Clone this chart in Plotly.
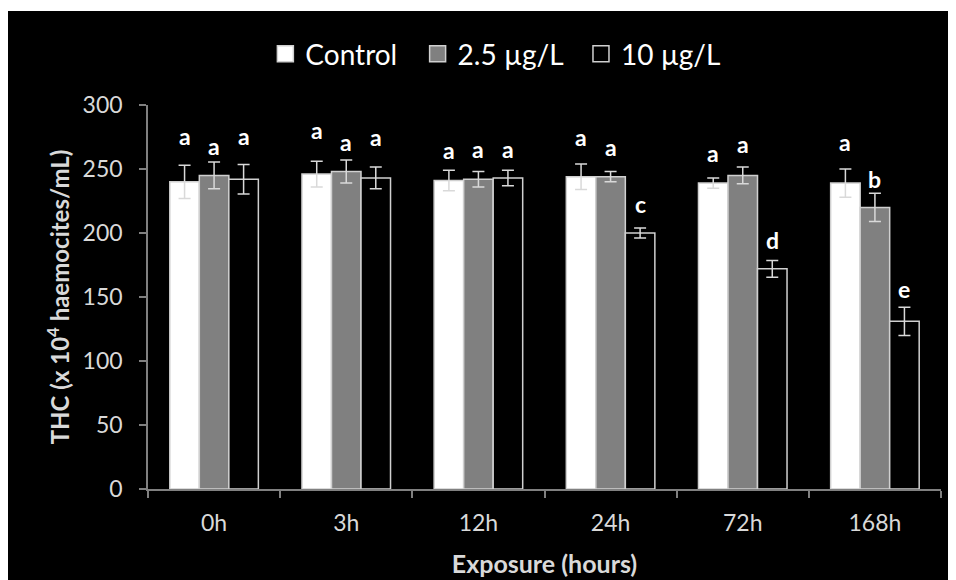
import plotly.graph_objects as go

categories = ["0h", "3h", "12h", "24h", "72h", "168h"]
series_names = ["Control", "2.5 µg/L", "10 µg/L"]
control = [240, 246, 241, 244, 239, 239]
low_dose = [245, 248, 242, 244, 245, 220]
high_dose = [242, 243, 243, 200, 172, 131]
control_err = [13, 10, 8, 10, 4, 11]
low_err = [10.5, 9, 6, 4, 6.5, 11]
high_err = [11.5, 8.5, 6, 4, 6.5, 11]
control_sig = ["a", "a", "a", "a", "a", "a"]
low_sig = ["a", "a", "a", "a", "a", "b"]
high_sig = ["a", "a", "a", "c", "d", "e"]
control_sig_y = [268, 273, 257, 267, 254.5, 263]
low_sig_y = [260, 263, 257.6, 259, 261.5, 234.7]
high_sig_y = [268, 267, 257.6, 214.6, 186.6, 148.5]

values = [control, low_dose, high_dose]
errors = [control_err, low_err, high_err]
sigs = [control_sig, low_sig, high_sig]
sig_ys = [control_sig_y, low_sig_y, high_sig_y]
fills = ["#ffffff", "#808080", "#000000"]
outline = "#d0d0d0"
err_color = "#d9d9d9"
legend_ids = ["legend", "legend2", "legend3"]
legend_x = [0.148, 0.340, 0.546]

W, H = 948, 572
M = dict(l=140, r=15, t=97, b=91)
plot_h = H - M["t"] - M["b"]

fig = go.Figure()
for name, vals, errs, fc in zip(series_names, values, errors, fills):
    fig.add_trace(go.Bar(
        name=name, x=categories, y=vals, showlegend=False,
        marker=dict(color=fc, line=dict(color=outline, width=1.5)),
        error_y=dict(type="data", array=errs, visible=True,
                     color=err_color, thickness=1.5, width=6),
    ))

# legend entries (square swatches)
for name, fc, lid in zip(series_names, fills, legend_ids):
    fig.add_trace(go.Scatter(
        name=name, x=[None], y=[None], mode="markers", legend=lid,
        marker=dict(symbol="square", size=18, color=fc, line=dict(color=outline, width=1.5)),
        showlegend=True,
    ))

bar_px = 29.5
for i, (labels, ys) in enumerate(zip(sigs, sig_ys)):
    shift = (i - 1) * bar_px
    for cat, lab, yy in zip(categories, labels, ys):
        fig.add_annotation(x=cat, y=yy, text=lab, showarrow=False,
                           xshift=shift, yshift=-6, yanchor="bottom", xref="x", yref="y",
                           font=dict(family="Lato", size=23, color="#ffffff", weight="bold"))

# thin white strip along the top edge (page border in the original)
fig.add_shape(type="rect", xref="paper", yref="paper",
              x0=-0.2, x1=1.1, y0=1 + (M["t"] - 3) / plot_h, y1=1 + (M["t"] + 2) / plot_h,
              fillcolor="#ffffff", line=dict(width=0), layer="above")

leg_common = dict(orientation="h", xanchor="left", y=1.133, yanchor="middle",
                  font=dict(size=28, color="#ffffff"), bgcolor="rgba(0,0,0,0)",
                  itemsizing="trace")
fig.update_layout(
    width=W, height=H,
    paper_bgcolor="#000000", plot_bgcolor="#000000",
    margin=dict(**M, autoexpand=False),
    barmode="group", bargap=0.33, bargroupgap=0,
    font=dict(family="Lato", color="#d9d9d9"),
    legend=dict(x=legend_x[0], **leg_common),
    legend2=dict(x=legend_x[1], **leg_common),
    legend3=dict(x=legend_x[2], **leg_common),
    showlegend=True,
)
fig.update_xaxes(
    automargin=False,
    showline=True, linecolor="#808080", linewidth=1.5,
    ticks="outside", tickson="boundaries", ticklen=7, tickcolor="#808080", tickwidth=1.5,
    tickfont=dict(size=23, color="#d9d9d9"), ticklabelstandoff=13,
    title=dict(text="Exposure (hours)", font=dict(size=25, color="#d9d9d9", weight="bold"), standoff=20),
    showgrid=False,
)
fig.update_yaxes(
    automargin=False,
    range=[0, 300], dtick=50,
    showline=True, linecolor="#808080", linewidth=1.5,
    ticks="outside", ticklen=7, tickcolor="#808080", tickwidth=1.5,
    tickfont=dict(size=23, color="#d9d9d9"), ticklabelstandoff=12,
    title=dict(text="THC (x 10<sup>4</sup> haemocites/mL)", font=dict(size=24, color="#d9d9d9", weight="bold"), standoff=6),
    showgrid=False, zeroline=False,
)

fig.write_html("out.html")
